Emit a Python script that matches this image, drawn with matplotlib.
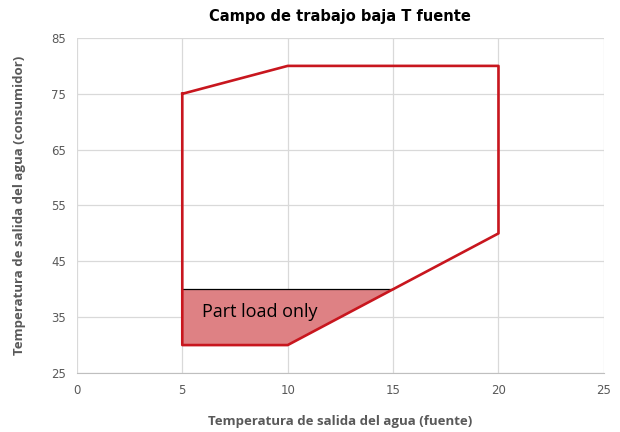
import matplotlib
matplotlib.use("Agg")
import matplotlib.pyplot as plt

# operating envelope (source water outlet temp vs consumer outlet temp)
env_x = [5, 10, 20, 20, 15, 10, 5, 5]
env_y = [75, 80, 80, 50, 40, 30, 30, 75]

# part-load region
part_x = [5, 10, 15, 5]
part_y = [30, 30, 40, 40]
part_line_x = [5, 15]
part_line_y = [40, 40]

x_ticks = [0, 5, 10, 15, 20, 25]
y_ticks = [25, 35, 45, 55, 65, 75, 85]

fig = plt.figure(figsize=(6.2, 4.32), dpi=100)
ax = fig.add_axes([0.124, 0.1366, 0.85, 0.7755])

ax.fill(part_x, part_y, color="#DE8184", zorder=2, linewidth=0)
ax.plot(part_line_x, part_line_y, color="black", linewidth=0.9, zorder=3)
ax.plot(env_x, env_y, color="#C8161E", linewidth=1.9, zorder=4)

ax.text(5.95, 36.0, "Part load only", fontsize=13, family=["Open Sans", "DejaVu Sans"],
        color="black", va="center", ha="left", zorder=5)

ax.set_xlim(0, 25)
ax.set_ylim(25, 85)
ax.set_xticks(x_ticks)
ax.set_yticks(y_ticks)
ax.grid(True, color="#D9D9D9", linewidth=0.9)
ax.set_axisbelow(True)
for s in ["top", "right", "left"]:
    ax.spines[s].set_visible(False)
ax.spines["bottom"].set_color("#BFBFBF")
ax.tick_params(length=0, labelsize=8.5, labelcolor="#595959", pad=8)

lab = dict(fontsize=9.5, fontweight="bold", color="#595959", family=["Open Sans", "DejaVu Sans"])
ax.set_xlabel("Temperatura de salida del agua (fuente)", labelpad=13, **lab)
ax.set_ylabel("Temperatura de salida del agua (consumidor)", labelpad=18, **lab)
ax.set_title("Campo de trabajo baja T fuente", fontsize=10.5, fontweight="bold",
             family=["Liberation Sans Narrow", "DejaVu Sans"], pad=12)

fig.savefig("out.png", dpi=100)
